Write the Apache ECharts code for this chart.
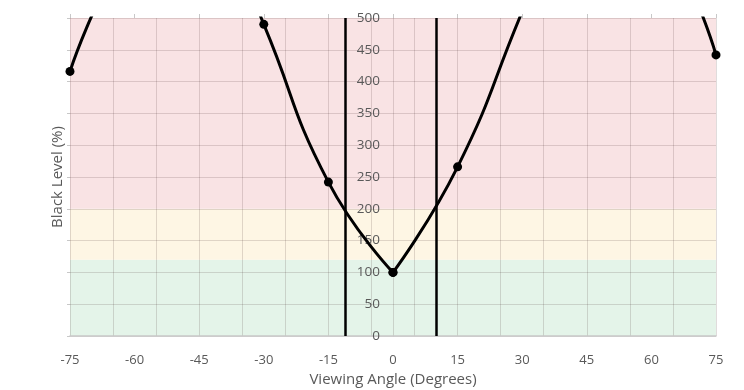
<!DOCTYPE html>
<html>
<head>
<meta charset="utf-8">
<script src="https://cdn.jsdelivr.net/npm/echarts@6/dist/echarts.min.js"></script>
<style>html,body{margin:0;padding:0;background:#fff}#c{width:744px;height:390px}</style>
</head>
<body>
<div id="c"></div>
<script>
// ---- data ----
const angles = [-75, -60, -45, -30, -15, 0, 15, 30, 45, 60, 75];
const blackLevel = [416, 630, 727, 490, 242, 100, 266, 510, 750, 665, 442];
const xTickLabels = [-75, -60, -45, -30, -15, 0, 15, 30, 45, 60, 75];
const yTickLabels = [0, 50, 100, 150, 200, 250, 300, 350, 400, 450, 500];
const limitAngles = [-11, 10];
const bandLow = [0, 120, 200];
const bandHigh = [120, 200, 500];
const bandColors = ['#e4f4e9', '#fef6e4', '#f9e3e4'];

// build series data (split at 0° so the minimum is a sharp point)
const pts = angles.map((a, i) => [a, blackLevel[i]]);
const zeroIdx = angles.indexOf(0);
const leftPts = pts.slice(0, zeroIdx + 1);
const rightPts = pts.slice(zeroIdx);

const gray = '#595959';
const gridCol = 'rgba(60,40,40,0.16)';
const font = 'Open Sans';

const W = 744, gridLeft = 70, gridRight = 28;
const xMin = xTickLabels[0], xMax = xTickLabels[xTickLabels.length - 1];
// place the value axis at x = 0
const yAxisOffset = -((0 - xMin) / (xMax - xMin)) * (W - gridLeft - gridRight);

const chart = echarts.init(document.getElementById('c'), null, {renderer: 'canvas'});
const lineStyle = {color: '#000', width: 3};
const baseSeries = {
  type: 'line', smooth: 0.5, symbol: 'circle', symbolSize: 9,
  itemStyle: {color: '#000'}, lineStyle: lineStyle, clip: true,
  xAxisIndex: 0, yAxisIndex: 0, z: 3
};
chart.setOption({
  animation: false,
  grid: {left: gridLeft, right: gridRight, top: 18, bottom: 54, containLabel: false, outerBoundsMode: 'none'},
  xAxis: [
    {
      type: 'value', position: 'bottom', min: xMin, max: xMax, interval: 15,
      name: 'Viewing Angle (Degrees)', nameLocation: 'middle', nameGap: 34,
      nameTextStyle: {color: gray, fontSize: 15, fontFamily: font},
      axisLine: {show: true, onZero: false, lineStyle: {color: '#c8c8c8', width: 1.5}},
      axisTick: {show: false}, splitLine: {show: false},
      axisLabel: {color: gray, fontSize: 13, fontFamily: font, margin: 18},
      z: 1.5
    },
    {
      type: 'value', position: 'top', min: xMin, max: xMax, interval: 15,
      axisLine: {show: false, onZero: false}, axisLabel: {show: false},
      axisTick: {show: true, length: 4, inside: false, lineStyle: {color: '#c8c8c8'}},
      splitLine: {show: false}, z: 1.5
    },
    {
      type: 'value', position: 'bottom', min: xMin, max: xMax, interval: 10,
      axisLine: {show: false, onZero: false}, axisLabel: {show: false}, axisTick: {show: false},
      splitLine: {show: true, lineStyle: {color: gridCol, width: 1}}, z: 1.5
    }
  ],
  yAxis: [
    {
      type: 'value', position: 'left', offset: yAxisOffset,
      min: yTickLabels[0], max: yTickLabels[yTickLabels.length - 1], interval: 50,
      axisLine: {show: true, onZero: false, lineStyle: {color: gridCol, width: 1}},
      axisTick: {show: false},
      axisLabel: {color: gray, fontSize: 13.5, fontFamily: font, margin: 13},
      splitLine: {show: true, lineStyle: {color: gridCol, width: 1}},
      z: 1.5
    },
    {
      type: 'value', position: 'left', min: 0, max: 500, interval: 50,
      name: 'Black Level (%)', nameLocation: 'middle', nameGap: 5,
      nameTextStyle: {color: gray, fontSize: 15, fontFamily: font},
      axisLine: {show: false, onZero: false}, axisLabel: {show: false},
      axisTick: {show: true, length: 3, lineStyle: {color: '#c8c8c8'}},
      splitLine: {show: false}, z: 1.5
    }
  ],
  series: [
    Object.assign({}, baseSeries, {
      data: leftPts,
      markArea: {
        silent: true,
        data: bandLow.map((lo, i) => [
          {yAxis: lo, itemStyle: {color: bandColors[i]}},
          {yAxis: bandHigh[i]}
        ])
      },
      markLine: {
        silent: true, symbol: 'none', label: {show: false},
        lineStyle: {color: '#000', width: 2.5, type: 'solid'},
        data: limitAngles.map(a => ({xAxis: a}))
      }
    }),
    Object.assign({}, baseSeries, {data: rightPts})
  ]
});
</script>
</body>
</html>
